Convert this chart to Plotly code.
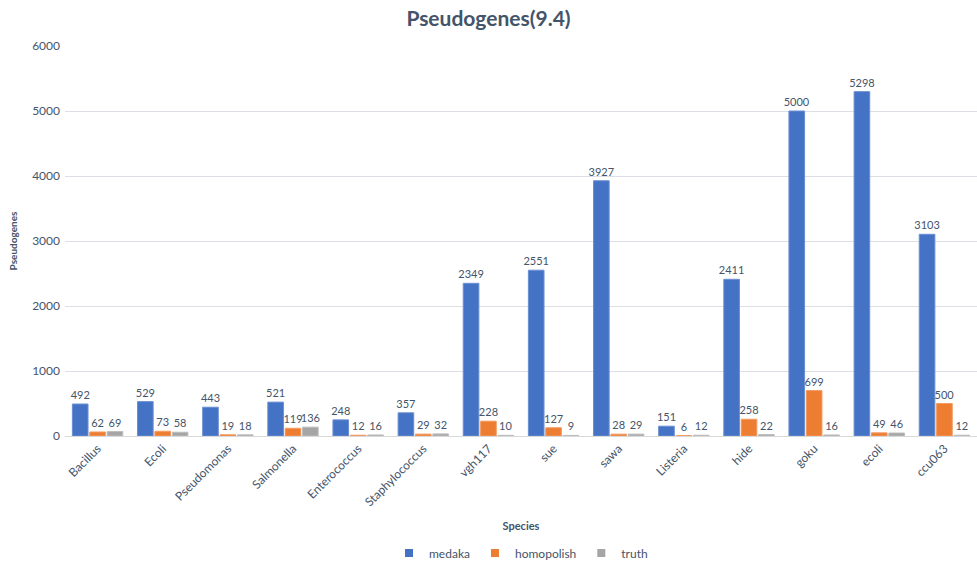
import plotly.graph_objects as go

species = ["Bacillus", "Ecoli", "Pseudomonas", "Salmonella", "Enterococcus",
           "Staphylococcus", "vgh117", "sue", "sawa", "Listeria", "hide",
           "goku", "ecoli", "ccu063"]
medaka = [492, 529, 443, 521, 248, 357, 2349, 2551, 3927, 151, 2411, 5000, 5298, 3103]
homopolish = [62, 73, 19, 119, 12, 29, 228, 127, 28, 6, 258, 699, 49, 500]
truth = [69, 58, 18, 136, 16, 32, 10, 9, 29, 12, 22, 16, 46, 12]

series = [
    ("medaka", medaka, "#4472C4", "#6A8FD3"),
    ("homopolish", homopolish, "#ED7D31", "#F29A62"),
    ("truth", truth, "#A5A5A5", "#BDBDBD"),
]

text_color = "#44546A"
font_family = "Lato, 'Open Sans', sans-serif"

fig = go.Figure()
for name, vals, color, edge in series:
    fig.add_trace(go.Bar(
        name=name, x=species, y=vals, showlegend=False, legendgroup=name,
        marker=dict(color=color, line=dict(color=edge, width=1)),
        text=[str(v) for v in vals], textposition="outside",
        constraintext="none",
        textfont=dict(size=11, color=text_color, family=font_family),
        cliponaxis=False,
    ))

# small square legend keys
for name, vals, color, edge in series:
    fig.add_trace(go.Scatter(
        name=name, x=[None], y=[None], mode="markers", legendgroup=name,
        marker=dict(symbol="square", size=8, color=color),
    ))

fig.update_layout(
    width=977, height=565,
    margin=dict(l=65, r=0, t=46, b=129, autoexpand=False),
    paper_bgcolor="white", plot_bgcolor="white",
    barmode="group", bargap=0.2, bargroupgap=0.1,
    font=dict(family=font_family, color=text_color, size=11),
    title=dict(text="<b>Pseudogenes(9.4)</b>", x=0.5, xanchor="center",
               y=0.967, yanchor="middle",
               font=dict(size=21, color=text_color, family=font_family)),
    xaxis=dict(title=dict(text="<b>Species</b>", font=dict(size=11), standoff=14),
               tickangle=-45, tickfont=dict(size=12, color=text_color),
               showline=True, linecolor="#D9D9D9", ticks="", automargin=False),
    yaxis=dict(title=dict(text="<b>Pseudogenes</b>", font=dict(size=10), standoff=12),
               range=[0, 6000], dtick=1000, gridcolor="#DCDFE6",
               tickfont=dict(size=12, color=text_color), zeroline=False,
               ticks="", ticklabelstandoff=4, automargin=False),
    legend=dict(orientation="h", x=0.5, xanchor="center", y=-0.3, yanchor="middle",
                font=dict(size=12, color=text_color), itemwidth=30,
                traceorder="normal"),
)

fig.write_html("out.html")
